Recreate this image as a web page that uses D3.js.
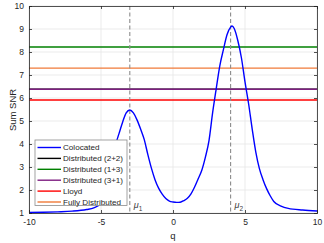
<!DOCTYPE html>
<html><head><meta charset="utf-8">
<script src="https://cdn.jsdelivr.net/npm/d3@7"></script>
<style>body{margin:0;background:#fff}svg{display:block}text{font-family:"Liberation Sans",Arial,sans-serif}</style>
</head><body><svg id="c" width="324" height="243"></svg>
<script>
const qValues = [-10,-9,-8,-7,-6,-5.5,-5,-4.75,-4.5,-4.25,-4,-3.75,-3.5,-3.25,-3,-2.75,-2.5,-2.25,-2,-1.75,-1.5,-1.25,-1,-0.75,-0.5,-0.25,0,0.25,0.5,0.75,1,1.25,1.5,1.75,2,2.25,2.5,2.75,3,3.25,3.5,3.75,4,4.1,4.25,4.5,4.75,5,5.25,5.5,5.75,6,6.25,6.5,6.75,7,7.5,8,9,10];
const colocated = [1.02,1.03,1.05,1.08,1.15,1.22,1.42,1.75,2.4,3.3,3.95,4.45,4.95,5.35,5.48,5.35,5.05,4.65,4.2,3.55,2.95,2.45,2.08,1.82,1.63,1.52,1.48,1.46,1.47,1.54,1.64,1.83,2.13,2.49,2.86,3.43,4.15,5.35,6.4,7.4,8.1,8.75,9.08,9.13,9.02,8.5,7.75,6.7,5.75,4.65,3.65,2.93,2.45,2.06,1.75,1.5,1.3,1.2,1.13,1.09];
const seriesNames = ["Colocated","Distributed (2+2)","Distributed (1+3)","Distributed (3+1)","Lloyd","Fully Distributed"];
const seriesColors = ["#0000ff","#000000","#008000","#7e1e80","#ff0000","#f07a38"];
const constantValues = [null, 6.38, 8.22, 6.38, 5.91, 7.3];
const muPositions = [-3, 4];
const muLabels = ["1","2"];
const xTicks = [-10,-5,0,5,10];
const yTicks = [1,2,3,4,5,6,7,8,9,10];

const svg = d3.select("#c");
const L=29,R=317,T=6,B=213;
const x = d3.scaleLinear().domain([-10,10]).range([L,R]);
const y = d3.scaleLinear().domain([1,10]).range([B,T]);

// grid
const g = svg.append("g");
g.selectAll(".gx").data(xTicks).enter().append("line")
 .attr("x1",d=>x(d)).attr("x2",d=>x(d)).attr("y1",T).attr("y2",B).attr("stroke","#e6e6e6").attr("stroke-width",0.8);
g.selectAll(".gy").data(yTicks).enter().append("line")
 .attr("y1",d=>y(d)).attr("y2",d=>y(d)).attr("x1",L).attr("x2",R).attr("stroke","#e6e6e6").attr("stroke-width",0.8);

// constant lines
const plot = svg.append("g");
constantValues.forEach((v,i)=>{
  if(v===null) return;
  plot.append("line").attr("x1",L).attr("x2",R).attr("y1",y(v)).attr("y2",y(v))
   .attr("stroke",seriesColors[i]).attr("stroke-width",1.4);
});
// mu lines
muPositions.forEach((m,i)=>{
  plot.append("line").attr("x1",x(m)).attr("x2",x(m)).attr("y1",T).attr("y2",B)
   .attr("stroke","#8c8c8c").attr("stroke-width",1.1).attr("stroke-dasharray","4,2.5");
  const t = plot.append("text").attr("x",x(m)+4).attr("y",B-5).attr("font-size",9).attr("fill","#404040");
  t.append("tspan").text("μ").attr("font-style","italic");
  t.append("tspan").text(muLabels[i]).attr("font-size",6.5).attr("dy",2.5);
});
// curve
const pts = qValues.map((q,i)=>[q,colocated[i]]);
plot.append("path").datum(pts)
 .attr("d",d3.line().x(d=>x(d[0])).y(d=>y(d[1])).curve(d3.curveMonotoneX))
 .attr("fill","none").attr("stroke",seriesColors[0]).attr("stroke-width",1.4);

// axes
const axCol="#262626";
const xa = d3.axisBottom(x).tickValues(xTicks).tickSize(-3).tickPadding(6);
const ya = d3.axisLeft(y).tickValues(yTicks).tickSize(-3).tickPadding(5);
const gx = svg.append("g").attr("transform",`translate(0,${B})`).call(xa);
const gy = svg.append("g").attr("transform",`translate(${L},0)`).call(ya);
const gxt = svg.append("g").attr("transform",`translate(0,${T})`).call(d3.axisTop(x).tickValues(xTicks).tickSize(-3).tickFormat(""));
const gyr = svg.append("g").attr("transform",`translate(${R},0)`).call(d3.axisRight(y).tickValues(yTicks).tickSize(-3).tickFormat(""));
[gx,gy,gxt,gyr].forEach(a=>{
  a.select(".domain").attr("stroke",axCol).attr("stroke-width",0.8);
  a.selectAll(".tick line").attr("stroke",axCol).attr("stroke-width",0.8);
  a.selectAll("text").attr("fill",axCol).attr("font-size",8.5).attr("font-family",'"Liberation Sans",Arial,sans-serif');
});
gx.selectAll(".tick text").text(d=>d<0?"-"+Math.abs(d):d);

svg.append("text").attr("x",x(0)).attr("y",238.5).attr("text-anchor","middle").attr("font-size",9.5).attr("fill",axCol).text("q");
svg.append("text").attr("transform","translate(15.5,110) rotate(-90)").attr("text-anchor","middle").attr("font-size",9.5).attr("fill",axCol).text("Sum SNR");

// legend
const lg = svg.append("g");
lg.append("rect").attr("x",35).attr("y",140).attr("width",92).attr("height",65.5)
 .attr("fill","#fff").attr("stroke","#8c8c8c").attr("stroke-width",0.8);
seriesNames.forEach((n,i)=>{
  const yy = 147.5 + i*10.9;
  lg.append("line").attr("x1",37.5).attr("x2",61).attr("y1",yy).attr("y2",yy)
   .attr("stroke",seriesColors[i]).attr("stroke-width",1.4);
  lg.append("text").attr("x",63).attr("y",yy+2.9).attr("font-size",8.1).attr("fill","#262626").text(n);
});
</script></body></html>
